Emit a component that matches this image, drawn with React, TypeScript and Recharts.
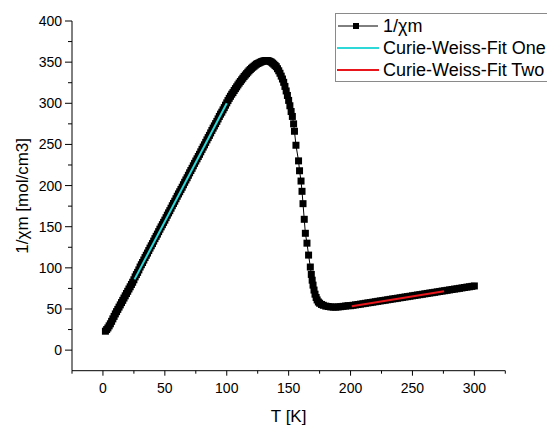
import React from 'react';
import { ComposedChart, Line, XAxis, YAxis, Legend, Label } from 'recharts';

const FONT = '"Liberation Sans", Arial, sans-serif';

const tempK = [
  2, 3, 4, 5, 6, 7, 8, 9, 10, 11, 12, 13, 14, 15, 16, 17, 18, 19, 20, 21, 22, 23, 24, 25,
  26, 27, 28, 29, 30, 31, 32, 33, 34, 35, 36, 37, 38, 39, 40, 41, 42, 43, 44, 45, 46, 47,
  48, 49, 50, 51, 52, 53, 54, 55, 56, 57, 58, 59, 60, 61, 62, 63, 64, 65, 66, 67, 68, 69,
  70, 71, 72, 73, 74, 75, 76, 77, 78, 79, 80, 81, 82, 83, 84, 85, 86, 87, 88, 89, 90, 91,
  92, 93, 94, 95, 96, 97, 98, 99, 100, 101, 102, 103, 104, 105, 106, 107, 108, 109, 110,
  111, 112, 113, 114, 115, 116, 117, 118, 119, 120, 121, 122, 123, 124, 125, 126, 127, 128,
  129, 130, 131, 132, 133, 134, 135, 136, 137, 138, 139, 140, 141, 142, 143, 144, 145, 146,
  147, 148, 149, 150, 151, 152, 153, 154, 154.7, 155.9, 158, 158.8, 160, 160.8, 161.6, 162.6,
  163.5, 164.8, 166.1, 167.5, 168.3, 169, 169.7, 170.5, 171.3, 172.2, 173, 174, 175, 176.5,
  178, 180, 182, 184, 186, 188, 190, 192, 194, 196, 198, 200, 202, 204, 206, 208, 210, 212,
  214, 216, 218, 220, 222, 224, 226, 228, 230, 232, 234, 236, 238, 240, 242, 244, 246, 248,
  250, 252, 254, 256, 258, 260, 262, 264, 266, 268, 270, 272, 274, 276, 278, 280, 282, 284,
  286, 288, 290, 292, 294, 296, 298, 300,
];
const invChi = [
  23, 25, 27, 29.5, 32, 35, 38, 41, 44, 46.8, 49.5, 52.3, 55, 57.8, 60.5, 63.3, 66, 68.8,
  71.5, 74.3, 77, 79.8, 82.5, 85.5, 89, 91.8, 94.5, 97.5, 101, 103.8, 106.5, 109.5, 112.5,
  115.3, 118, 121, 124, 126.8, 129.5, 132.5, 135.5, 138.3, 141, 144, 147, 149.8, 152.5,
  155.3, 158, 161, 164, 166.8, 169.5, 172.5, 175.5, 178.3, 181, 184, 187, 189.8, 192.5,
  195.3, 198, 201, 204, 206.8, 209.5, 212.5, 215.5, 218.3, 221, 224, 227, 229.8, 232.5,
  235.3, 238, 241, 244, 246.8, 249.5, 252.5, 255.5, 258.3, 261, 264, 267, 269.8, 272.5,
  275.3, 278, 281, 284, 286.8, 289.2, 292, 294.7, 297.7, 300.5, 303.3, 306, 308.5, 311,
  313, 315.5, 317.8, 320, 322.3, 324.5, 326.5, 328.5, 330.5, 332.5, 334.3, 336, 337.8, 339.5,
  341, 342.5, 343.8, 345, 346.3, 347.5, 348.3, 349, 349.8, 350.5, 351, 351.5, 351.8, 352,
  351.8, 351.5, 350.8, 350, 348.8, 347.5, 346, 344.5, 342, 339.5, 336.5, 333, 329.5, 325.5,
  320.5, 315, 309.5, 303.5, 297, 290, 284, 275, 266, 249, 230, 218, 205.5, 193, 178, 159,
  142, 130, 115.5, 101, 92, 85, 79, 73, 68, 64, 61, 58.5, 57, 55.5, 54.5, 53.5, 53, 52.5,
  52.3, 52.3, 52.5, 52.8, 53.2, 53.6, 54, 54, 54.5, 55, 55.4, 55.9, 56.4, 56.9, 57.4, 57.8,
  58.3, 58.8, 59.3, 59.8, 60.2, 60.7, 61.2, 61.7, 62.2, 62.6, 63.1, 63.6, 64.1, 64.6, 65,
  65.5, 66, 66.5, 67, 67.4, 67.9, 68.4, 68.9, 69.4, 69.8, 70.3, 70.8, 71.3, 71.8, 72.2,
  72.7, 73.2, 73.7, 74.2, 74.6, 75.1, 75.6, 76.1, 76.6, 77, 77.5, 78,
];

// Curie-Weiss fit segments (end points)
const fitOneT = [25.5, 100];
const fitOneV = [86, 300];
const fitTwoT = [201, 275.5];
const fitTwoV = [53.2, 71.5];

const xTicks = [-25, 0, 25, 50, 75, 100, 125, 150, 175, 200, 225, 250, 275, 300, 325];
const yTicks = [0, 25, 50, 75, 100, 125, 150, 175, 200, 225, 250, 275, 300, 325, 350, 375, 400];

const toPoints = (ts: number[], vs: number[]) => ts.map((t, i) => ({ t, v: vs[i] }));
const dataPts = toPoints(tempK, invChi);
const fitOne = toPoints(fitOneT, fitOneV);
const fitTwo = toPoints(fitTwoT, fitTwoV);

const CYAN = '#2fd8d8';
const RED = '#e8161b';

function SquareDot(props: any) {
  const { cx, cy, index } = props;
  if (cx == null || cy == null) return <g key={`sq-${index}`} />;
  return <rect key={`sq-${index}`} x={cx - 3.5} y={cy - 3.5} width={7} height={7} fill="#000" />;
}

function XTick(props: any) {
  const { x, y, payload } = props;
  const major = payload.value % 50 === 0;
  return (
    <g>
      <line x1={x} x2={x} y1={y} y2={y + (major ? 5 : 3)} stroke="#000" />
      {major && (
        <text x={x} y={y + 22.6} textAnchor="middle" fontSize={14} fontFamily={FONT} fill="#000">
          {payload.value}
        </text>
      )}
    </g>
  );
}

function YTick(props: any) {
  const { x, y, payload } = props;
  const major = payload.value % 50 === 0;
  return (
    <g>
      <line x1={x - (major ? 7 : 4)} x2={x} y1={y} y2={y} stroke="#000" />
      {major && (
        <text x={x - 10} y={y + 5} textAnchor="end" fontSize={14} fontFamily={FONT} fill="#000">
          {payload.value}
        </text>
      )}
    </g>
  );
}

function LegendBox(props: any) {
  const items = props.payload || [];
  return (
    <div
      style={{
        border: '1px solid #8a8a8a',
        paddingTop: 1,
        width: 214,
        background: '#fff',
        fontFamily: FONT,
        fontSize: 18,
        color: '#000',
      }}
    >
      {items.map((it: any, i: number) => (
        <div key={i} style={{ height: 22, display: 'flex', alignItems: 'center' }}>
          <svg width={47} height={22} style={{ display: 'block' }}>
            {i === 0 ? (
              <>
                <line x1={2} x2={42} y1={11} y2={11} stroke="#000" strokeWidth={1} />
                <rect x={17} y={8} width={6} height={6} fill="#000" />
              </>
            ) : (
              <line x1={1} x2={43} y1={11} y2={11} stroke={it.color} strokeWidth={2} />
            )}
          </svg>
          <span style={{ whiteSpace: 'nowrap' }}>{it.value}</span>
        </div>
      ))}
    </div>
  );
}

export default function App() {
  return (
    <div style={{ position: 'fixed', left: 0, top: 0, width: 547, height: 425, overflow: 'hidden', background: '#fff' }}>
      <ComposedChart width={547} height={425} margin={{ top: 21, right: 41.7, bottom: 0, left: 0 }}>
        <XAxis
          type="number"
          dataKey="t"
          domain={[-25, 325]}
          ticks={xTicks}
          interval={0}
          height={54.3}
          tickSize={0}
          tickMargin={0}
          tickLine={false}
          tick={<XTick />}
          axisLine={{ stroke: '#000', strokeWidth: 1 }}
        >
          <Label
            content={(p: any) => {
              const vb = p.viewBox;
              return (
                <text x={vb.x + vb.width / 2} y={vb.y + 51} textAnchor="middle" fontSize={17} fontFamily={FONT} fill="#000">
                  T [K]
                </text>
              );
            }}
          />
        </XAxis>
        <YAxis
          type="number"
          dataKey="v"
          domain={[-25, 400]}
          ticks={yTicks}
          interval={0}
          width={72}
          tickSize={0}
          tickMargin={0}
          tickLine={false}
          tick={<YTick />}
          axisLine={{ stroke: '#000', strokeWidth: 1 }}
        >
          <Label
            content={(p: any) => {
              const vb = p.viewBox;
              const cy = vb.y + vb.height / 2;
              return (
                <text
                  x={23}
                  y={cy}
                  transform={`rotate(-90, 23, ${cy})`}
                  textAnchor="middle"
                  dominantBaseline="central"
                  fontSize={17}
                  fontFamily={FONT}
                  fill="#000"
                >
                  1/χm [mol/cm3]
                </text>
              );
            }}
          />
        </YAxis>
        <Legend
          layout="vertical"
          align="center"
          verticalAlign="middle"
          content={<LegendBox />}
          wrapperStyle={{ left: 335, top: 13, width: 214 }}
        />
        <Line
          name="1/χm"
          data={dataPts}
          dataKey="v"
          type="linear"
          stroke="#000"
          strokeWidth={1}
          dot={SquareDot}
          activeDot={false}
          isAnimationActive={false}
        />
        <Line
          name="Curie-Weiss-Fit One"
          data={fitOne}
          dataKey="v"
          type="linear"
          stroke={CYAN}
          strokeWidth={2}
          dot={false}
          activeDot={false}
          isAnimationActive={false}
          zIndex={1100}
        />
        <Line
          name="Curie-Weiss-Fit Two"
          data={fitTwo}
          dataKey="v"
          type="linear"
          stroke={RED}
          strokeWidth={2}
          dot={false}
          activeDot={false}
          isAnimationActive={false}
          zIndex={1100}
        />
      </ComposedChart>
    </div>
  );
}
